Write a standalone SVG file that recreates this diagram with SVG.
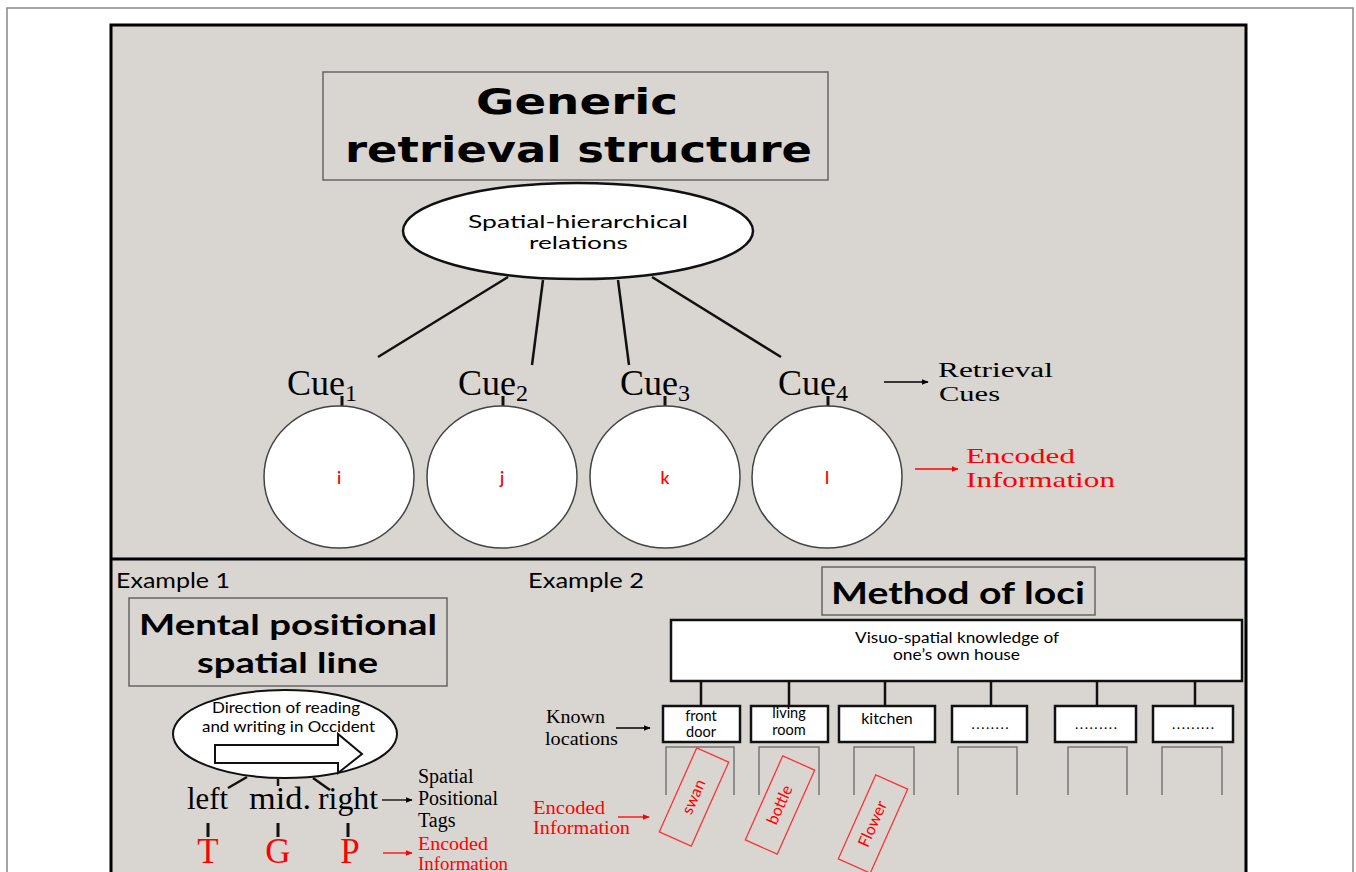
<svg xmlns="http://www.w3.org/2000/svg" width="1356" height="872" viewBox="0 0 1356 872">
<defs>
<marker id="ab" viewBox="0 0 10 10" refX="9" refY="5" markerWidth="7" markerHeight="7" markerUnits="userSpaceOnUse" orient="auto"><path d="M0,1 L10,5 L0,9 z" fill="#000"/></marker>
<marker id="ar" viewBox="0 0 10 10" refX="9" refY="5" markerWidth="7" markerHeight="7" markerUnits="userSpaceOnUse" orient="auto"><path d="M0,1 L10,5 L0,9 z" fill="#f00"/></marker>
<style>
.serif{font-family:"Liberation Serif","Times New Roman",serif;fill:#000}
.sans{font-family:Lato,"Open Sans","Liberation Sans",sans-serif;fill:#000}
.red{fill:#f00}
.title{font-family:"DejaVu Sans",Verdana,sans-serif;font-weight:bold;fill:#000}
.bold{font-family:Lato,"Open Sans",sans-serif;font-weight:bold;fill:#000}
.gbox{fill:none;stroke:#666;stroke-width:1.5}
.bbox{fill:#fff;stroke:#111;stroke-width:2.5}
.circ{fill:#fff;stroke:#444;stroke-width:1.5}
.ln{stroke:#111;stroke-width:2.5;fill:none}
.tick{stroke:#111;stroke-width:3}
.u{fill:none;stroke:#777;stroke-width:1.5}
.rbox{fill:none;stroke:#f33;stroke-width:1.3}
.arb{stroke:#000;stroke-width:1.3;marker-end:url(#ab)}
.arr{stroke:#f00;stroke-width:1.3;marker-end:url(#ar)}
</style>
</defs>
<rect x="7" y="8" width="1346" height="880" fill="#fff" stroke="#888" stroke-width="1.5"/>
<rect id="panel" x="111" y="25" width="1135" height="860" fill="#d9d5d1" stroke="#000" stroke-width="3"/>
<line x1="111" y1="559" x2="1246" y2="559" stroke="#000" stroke-width="3"/>

<g id="connectors">
<line class="ln" x1="508" y1="277" x2="378" y2="357"/>
<line class="ln" x1="543" y1="280" x2="532" y2="365"/>
<line class="ln" x1="618" y1="280" x2="629" y2="365"/>
<line class="ln" x1="652" y1="277" x2="781" y2="357"/>
<line class="tick" x1="342" y1="396" x2="342" y2="407"/>
<line class="tick" x1="503" y1="396" x2="503" y2="407"/>
<line class="tick" x1="665" y1="396" x2="665" y2="407"/>
<line class="tick" x1="828" y1="396" x2="828" y2="407"/>
<line class="arb" x1="884" y1="382" x2="928" y2="382"/>
<line class="arr" x1="915" y1="469" x2="958" y2="469"/>
<line class="ln" x1="247" y1="777" x2="228" y2="788"/>
<line class="ln" x1="278" y1="779" x2="278" y2="786"/>
<line class="ln" x1="313" y1="778" x2="330" y2="790"/>
<line class="arb" x1="382" y1="800" x2="412" y2="800"/>
<line class="tick" x1="208" y1="823" x2="208" y2="837"/>
<line class="tick" x1="278" y1="823" x2="278" y2="837"/>
<line class="tick" x1="348" y1="823" x2="348" y2="837"/>
<line class="arr" x1="383" y1="853" x2="412" y2="853"/>
<line class="ln" x1="701" y1="681" x2="701" y2="706"/>
<line class="ln" x1="789" y1="681" x2="789" y2="706"/>
<line class="ln" x1="885" y1="681" x2="885" y2="706"/>
<line class="ln" x1="991" y1="681" x2="991" y2="706"/>
<line class="ln" x1="1097" y1="681" x2="1097" y2="706"/>
<line class="ln" x1="1195" y1="681" x2="1195" y2="706"/>
<line class="arb" x1="616" y1="728" x2="650" y2="728"/>
<line class="arr" x1="618" y1="817" x2="649" y2="817"/>
</g>

<g id="title">
<rect class="gbox" x="323" y="72" width="505" height="108"/>
<text class="title" x="577" y="114" font-size="35" text-anchor="middle" textLength="202" lengthAdjust="spacingAndGlyphs">Generic</text>
<text class="title" x="578.5" y="162" font-size="35" text-anchor="middle" textLength="467" lengthAdjust="spacingAndGlyphs">retrieval structure</text>
</g>

<g id="relations">
<ellipse cx="578" cy="231" rx="175" ry="48" fill="#fff" stroke="#111" stroke-width="2.5"/>
<text class="sans" x="578" y="228" font-size="18" text-anchor="middle" textLength="220" lengthAdjust="spacingAndGlyphs">Spatial-hierarchical</text>
<text class="sans" x="578.5" y="249" font-size="18" text-anchor="middle" textLength="99" lengthAdjust="spacingAndGlyphs">relations</text>
</g>

<g id="cue1"><text class="serif" x="287" y="395" font-size="36">Cue<tspan font-size="24" dy="6">1</tspan></text></g>
<g id="cue2"><text class="serif" x="458" y="395" font-size="36">Cue<tspan font-size="24" dy="6">2</tspan></text></g>
<g id="cue3"><text class="serif" x="620" y="395" font-size="36">Cue<tspan font-size="24" dy="6">3</tspan></text></g>
<g id="cue4"><text class="serif" x="778" y="395" font-size="36">Cue<tspan font-size="24" dy="6">4</tspan></text></g>

<g id="info-i"><ellipse class="circ" cx="339" cy="477" rx="75" ry="71"/><text class="sans red" x="339" y="484" font-size="17" font-weight="600" text-anchor="middle">i</text></g>
<g id="info-j"><ellipse class="circ" cx="502" cy="477" rx="75" ry="71"/><text class="sans red" x="502" y="484" font-size="17" font-weight="600" text-anchor="middle">j</text></g>
<g id="info-k"><ellipse class="circ" cx="665" cy="477" rx="75" ry="71"/><text class="sans red" x="665" y="484" font-size="17" font-weight="600" text-anchor="middle">k</text></g>
<g id="info-l"><ellipse class="circ" cx="827" cy="477" rx="75" ry="71"/><text class="sans red" x="827" y="484" font-size="17" font-weight="600" text-anchor="middle">l</text></g>

<g id="retrieval-cues-label">
<text class="serif" x="938" y="377" font-size="22" textLength="115" lengthAdjust="spacingAndGlyphs">Retrieval</text>
<text class="serif" x="939" y="401" font-size="22" textLength="61" lengthAdjust="spacingAndGlyphs">Cues</text>
</g>
<g id="encoded-label-top">
<text class="serif red" x="966" y="463" font-size="22" textLength="109" lengthAdjust="spacingAndGlyphs">Encoded</text>
<text class="serif red" x="966" y="487" font-size="22" textLength="149" lengthAdjust="spacingAndGlyphs">Information</text>
</g>

<g id="example1">
<text class="sans" x="116" y="588" font-size="21" textLength="114" lengthAdjust="spacingAndGlyphs">Example 1</text>
</g>
<g id="mental-line-title">
<rect class="gbox" x="129" y="598" width="318" height="88"/>
<text class="bold" x="288" y="635" font-size="29" text-anchor="middle" textLength="298" lengthAdjust="spacingAndGlyphs">Mental positional</text>
<text class="bold" x="287.5" y="673" font-size="29" text-anchor="middle" textLength="181" lengthAdjust="spacingAndGlyphs">spatial line</text>
</g>
<g id="direction">
<ellipse cx="285" cy="734" rx="112" ry="44" fill="#fff" stroke="#111" stroke-width="2"/>
<text class="sans" x="286" y="713" font-size="15" text-anchor="middle" textLength="148" lengthAdjust="spacingAndGlyphs">Direction of reading</text>
<text class="sans" x="288.5" y="732" font-size="15" text-anchor="middle" textLength="173" lengthAdjust="spacingAndGlyphs">and writing in Occident</text>
<polygon points="215,745 338,745 338,734 362,754 338,773 338,763 215,763" fill="#fff" stroke="#111" stroke-width="2"/>
</g>
<g id="tags">
<text class="serif" x="207.5" y="809" font-size="32" text-anchor="middle" textLength="41" lengthAdjust="spacingAndGlyphs">left</text>
<text class="serif" x="280" y="809" font-size="32" text-anchor="middle" textLength="62" lengthAdjust="spacingAndGlyphs">mid.</text>
<text class="serif" x="348" y="809" font-size="32" text-anchor="middle" textLength="60" lengthAdjust="spacingAndGlyphs">right</text>
</g>
<g id="tags-label">
<text class="serif" x="418" y="783" font-size="20">Spatial</text>
<text class="serif" x="418" y="805" font-size="20">Positional</text>
<text class="serif" x="418" y="827" font-size="20">Tags</text>
</g>
<g id="letters">
<text class="serif red" x="208" y="863" font-size="35" text-anchor="middle">T</text>
<text class="serif red" x="278" y="863" font-size="35" text-anchor="middle">G</text>
<text class="serif red" x="350" y="863" font-size="35" text-anchor="middle">P</text>
</g>
<g id="encoded-label-ex1">
<text class="serif red" x="418" y="850" font-size="18" textLength="70" lengthAdjust="spacingAndGlyphs">Encoded</text>
<text class="serif red" x="418" y="870" font-size="18" textLength="90" lengthAdjust="spacingAndGlyphs">Information</text>
</g>

<g id="example2">
<text class="sans" x="528" y="588" font-size="21" textLength="116" lengthAdjust="spacingAndGlyphs">Example 2</text>
</g>
<g id="loci-title">
<rect class="gbox" x="822" y="567" width="273" height="48"/>
<text class="bold" x="958" y="604" font-size="30" text-anchor="middle" textLength="254" lengthAdjust="spacingAndGlyphs">Method of loci</text>
</g>
<g id="house">
<rect class="bbox" x="671" y="620" width="571" height="61"/>
<text class="sans" x="957" y="643" font-size="15" text-anchor="middle" textLength="204" lengthAdjust="spacingAndGlyphs">Visuo-spatial knowledge of</text>
<text class="sans" x="956.5" y="660" font-size="15" text-anchor="middle" textLength="127" lengthAdjust="spacingAndGlyphs">one’s own house</text>
</g>
<g id="loc-front-door">
<rect class="bbox" x="663" y="706" width="77" height="36"/>
<text class="sans" x="701" y="721" font-size="14.5" text-anchor="middle">front</text>
<text class="sans" x="701" y="737" font-size="14.5" text-anchor="middle">door</text>
<path class="u" d="M666,795 V747 H734 V795"/>
</g>
<g id="loc-living-room">
<rect class="bbox" x="751" y="706" width="77" height="36"/>
<text class="sans" x="789" y="718" font-size="14.5" text-anchor="middle">living</text>
<text class="sans" x="789" y="735" font-size="14.5" text-anchor="middle">room</text>
<path class="u" d="M759,795 V747 H819 V795"/>
</g>
<g id="loc-kitchen">
<rect class="bbox" x="839" y="706" width="96" height="36"/>
<text class="sans" x="887" y="724" font-size="16" text-anchor="middle">kitchen</text>
<path class="u" d="M854,795 V747 H914 V795"/>
</g>
<g id="loc-4">
<rect class="bbox" x="952" y="706" width="75" height="36"/>
<text class="sans" x="990" y="729" font-size="14" text-anchor="middle" textLength="37" lengthAdjust="spacing">........</text>
<path class="u" d="M958,795 V747 H1017 V795"/>
</g>
<g id="loc-5">
<rect class="bbox" x="1055" y="706" width="81" height="36"/>
<text class="sans" x="1096" y="729" font-size="14" text-anchor="middle" textLength="42" lengthAdjust="spacing">.........</text>
<path class="u" d="M1068,795 V747 H1127 V795"/>
</g>
<g id="loc-6">
<rect class="bbox" x="1153" y="706" width="80" height="36"/>
<text class="sans" x="1193" y="729" font-size="14" text-anchor="middle" textLength="42" lengthAdjust="spacing">.........</text>
<path class="u" d="M1162,795 V747 H1222 V795"/>
</g>
<g id="known-label">
<text class="serif" x="546" y="723" font-size="19" textLength="59" lengthAdjust="spacingAndGlyphs">Known</text>
<text class="serif" x="545" y="745" font-size="19" textLength="73" lengthAdjust="spacingAndGlyphs">locations</text>
</g>
<g id="encoded-label-ex2">
<text class="serif red" x="533" y="814" font-size="19" textLength="72" lengthAdjust="spacingAndGlyphs">Encoded</text>
<text class="serif red" x="533" y="834" font-size="19" textLength="97" lengthAdjust="spacingAndGlyphs">Information</text>
</g>
<g id="item-swan" transform="translate(694,797)">
<rect class="rbox" x="-17.5" y="-46" width="35" height="92" transform="rotate(24)"/>
<text class="sans red" x="0" y="5" font-size="16" text-anchor="middle" transform="rotate(-66)">swan</text>
</g>
<g id="item-bottle" transform="translate(780,805)">
<rect class="rbox" x="-17.5" y="-46" width="35" height="92" transform="rotate(24)"/>
<text class="sans red" x="0" y="5" font-size="16" text-anchor="middle" transform="rotate(-66)">bottle</text>
</g>
<g id="item-flower" transform="translate(873,824)">
<rect class="rbox" x="-17.5" y="-46" width="35" height="92" transform="rotate(24)"/>
<text class="sans red" x="0" y="5" font-size="16" text-anchor="middle" transform="rotate(-66)">Flower</text>
</g>
</svg>
